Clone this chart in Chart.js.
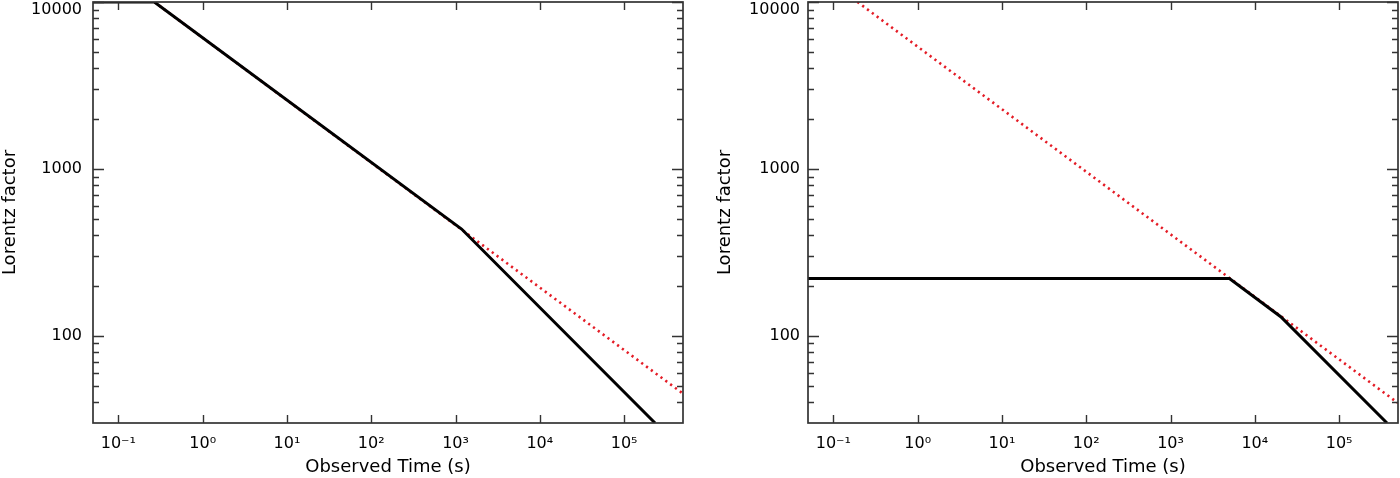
<!DOCTYPE html>
<html>
<head>
<meta charset="utf-8">
<script src="https://cdn.jsdelivr.net/npm/chart.js@4.4.1/dist/chart.umd.min.js"></script>
<style>
  html, body { margin: 0; padding: 0; background: #fff; }
  #wrap { position: relative; width: 1400px; height: 478px; overflow: hidden; }
  canvas { position: absolute; top: 0; }
</style>
</head>
<body>
<div id="wrap">
  <canvas id="left" width="700" height="478" style="left:0"></canvas>
  <canvas id="right" width="700" height="478" style="left:700px"></canvas>
</div>
<script>
// ---- data ----
// Left panel: black = computed Lorentz factor, red dotted = t^-3/8 reference
const leftTimes   = [0.05, 0.267, 1180, 2.33e5];
const leftGamma   = [10000, 10000, 436, 30];
const leftRefTimes = [0.267, 5e5];
const leftRefGamma = [10000, 45];
// Right panel
const rightTimes   = [0.05, 5000, 2.03e4, 3.7e5];
const rightGamma   = [220, 220, 130, 30];
const rightRefTimes = [0.193, 5e5];
const rightRefGamma = [10000, 39.5];
// Axis ticks
const xTickValues = [0.1, 1, 10, 100, 1000, 1e4, 1e5];
const xTickLabels = ['10\u207B\u00B9', '10\u2070', '10\u00B9', '10\u00B2', '10\u00B3', '10\u2074', '10\u2075'];
const yTickValues = [100, 1000, 10000];
const yTickLabels = ['100', '1000', '10000'];
const yMinorTicks = [40, 50, 60, 70, 80, 90, 200, 300, 400, 500, 600, 700, 800, 900,
                     2000, 3000, 4000, 5000, 6000, 7000, 8000, 9000];

const FONT = "'DejaVu Sans', sans-serif";

const axisBox = {
  id: 'axisBox',
  afterDraw(chart) {
    const { ctx, chartArea: a, scales: { x, y } } = chart;
    ctx.save();
    ctx.strokeStyle = '#333';
    ctx.lineWidth = 1.7;
    ctx.strokeRect(a.left, a.top, a.right - a.left, a.bottom - a.top);
    ctx.beginPath();
    xTickValues.forEach(v => {
      const px = Math.round(x.getPixelForValue(v)) + 0.5;
      ctx.moveTo(px, a.bottom); ctx.lineTo(px, a.bottom - 8);
      ctx.moveTo(px, a.top); ctx.lineTo(px, a.top + 8);
    });
    yTickValues.forEach(v => {
      const py = Math.round(y.getPixelForValue(v)) + 0.5;
      ctx.moveTo(a.left, py); ctx.lineTo(a.left + 11, py);
      ctx.moveTo(a.right, py); ctx.lineTo(a.right - 11, py);
    });
    yMinorTicks.forEach(v => {
      const py = Math.round(y.getPixelForValue(v)) + 0.5;
      ctx.moveTo(a.left, py); ctx.lineTo(a.left + 6, py);
      ctx.moveTo(a.right, py); ctx.lineTo(a.right - 6, py);
    });
    ctx.lineWidth = 1.4;
    ctx.stroke();
    ctx.restore();
  }
};

function makeChart(id, times, gamma, refTimes, refGamma, cfg) {
  const main = times.map((t, i) => ({ x: t, y: gamma[i] }));
  const ref = refTimes.map((t, i) => ({ x: t, y: refGamma[i] }));
  return new Chart(document.getElementById(id), {
    type: 'line',
    data: {
      datasets: [
        { data: main, borderColor: '#000', borderWidth: 3, pointRadius: 0, tension: 0 },
        { data: ref, borderColor: 'rgb(228,28,38)', borderWidth: 2.6, borderDash: [2.2, 3.8],
          pointRadius: 0, tension: 0 }
      ]
    },
    options: {
      responsive: false,
      animation: false,
      devicePixelRatio: 1,
      layout: { padding: { left: cfg.padLeft, right: cfg.padRight, top: 2, bottom: 0 } },
      plugins: { legend: { display: false }, tooltip: { enabled: false } },
      scales: {
        x: {
          type: 'logarithmic',
          min: 0.05, max: 5e5,
          grid: { display: false, drawTicks: false },
          border: { display: false },
          afterBuildTicks: s => { s.ticks = xTickValues.map(v => ({ value: v })); },
          afterFit: s => { s.height = 55; s.paddingLeft = 0; s.paddingRight = 0; },
          ticks: {
            autoSkip: false, maxRotation: 0, minRotation: 0, padding: 11, color: '#000',
            font: { family: FONT, size: 16 },
            callback: v => { const i = xTickValues.indexOf(v); return i >= 0 ? xTickLabels[i] : ''; }
          },
          title: {
            display: true, text: 'Observed Time (s)', color: '#000',
            font: { family: FONT, size: 18 }, padding: { top: 1, bottom: 0 }
          }
        },
        y: {
          type: 'logarithmic',
          min: 30, max: 10000,
          grid: { display: false, drawTicks: false },
          border: { display: false },
          afterBuildTicks: s => { s.ticks = yTickValues.map(v => ({ value: v })); },
          afterFit: s => { s.width = 93; s.paddingTop = 0; s.paddingBottom = 0; },
          ticks: {
            padding: cfg.tickPad, color: '#000',
            font: { family: FONT, size: 16, lineHeight: 1.0 },
            callback: v => {
              const i = yTickValues.indexOf(v);
              if (i < 0) return '';
              return v === 10000 ? ['', yTickLabels[i]] : yTickLabels[i];
            }
          },
          title: {
            display: true, text: 'Lorentz factor', color: '#000',
            font: { family: FONT, size: 18 }, padding: { top: 0, bottom: 0 }
          }
        }
      }
    },
    plugins: [axisBox]
  });
}

makeChart('left', leftTimes, leftGamma, leftRefTimes, leftRefGamma, { padLeft: 0, padRight: 17, tickPad: 11 });
makeChart('right', rightTimes, rightGamma, rightRefTimes, rightRefGamma, { padLeft: 15, padRight: 2, tickPad: 8 });
</script>
</body>
</html>
